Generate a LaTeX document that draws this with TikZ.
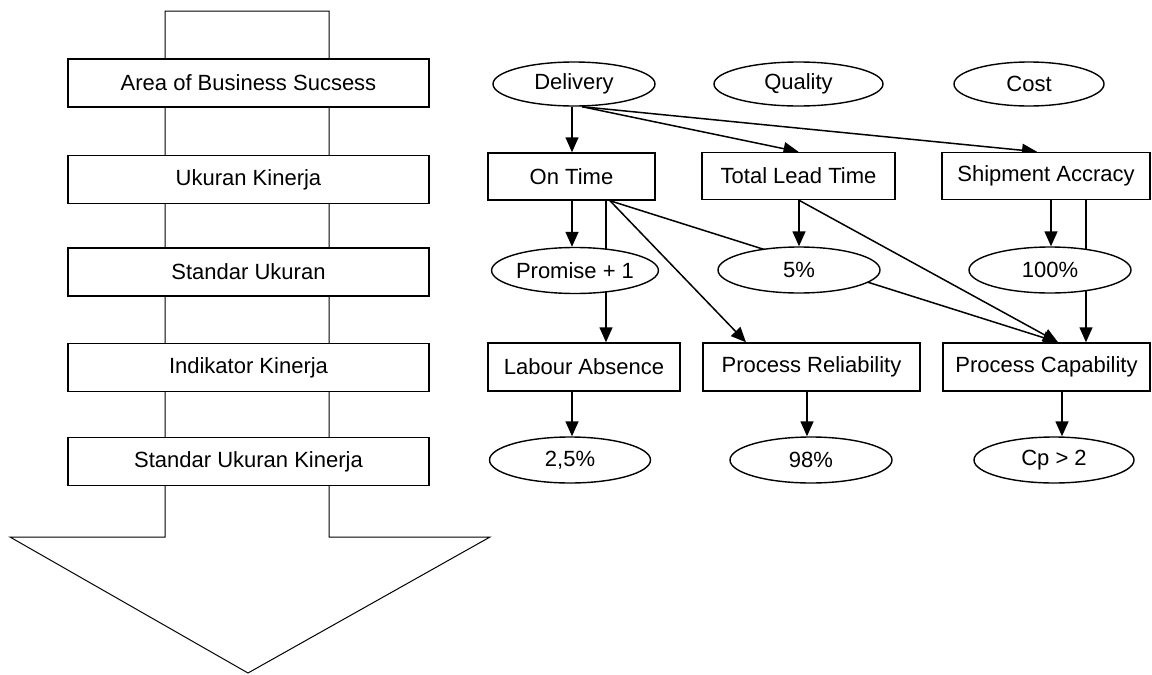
\documentclass[tikz,border=0pt]{standalone}
\usepackage{fontspec}
\setmainfont{Liberation Sans}
\usetikzlibrary{shapes.geometric,arrows.meta}
\pgfdeclarelayer{bg}
\pgfsetlayers{bg,main}
\begin{document}
\begin{tikzpicture}[x=1pt,y=-1pt,
  font=\fontsize{22}{26}\selectfont,
  box/.style={draw, line width=1.5pt, fill=white, rectangle, inner sep=0pt, minimum height=48pt},
  oval/.style={draw, line width=1.4pt, fill=white, ellipse, inner sep=0pt, minimum height=46pt},
  conn/.style={line width=1.5pt},
  arr/.style={conn, -{Triangle[length=15pt,width=13pt]}},
  big/.style={line width=1pt}]
\useasboundingbox (0,0) rectangle (1152,675);

% left column
\node[box, minimum width=361pt] (l1) at (248.5,83) {Area of Business Sucsess};
\node[box, minimum width=361pt] (l2) at (248.5,179.5) {Ukuran Kinerja};
\node[box, minimum width=361pt] (l3) at (248.5,272) {Standar Ukuran};
\node[box, minimum width=361pt] (l4) at (248.5,367.5) {Indikator Kinerja};
\node[box, minimum width=361pt] (l5) at (248.5,461.5) {Standar Ukuran Kinerja};

% right: row 1
\node[oval, minimum width=162pt, minimum height=44pt] (del) at (574,84) {Delivery};
\node[oval, minimum width=169pt, minimum height=44pt] (qua) at (798.5,84) {Quality};
\node[oval, minimum width=150pt, minimum height=44pt] (cost) at (1029,84) {Cost};
% row 2
\node[box, minimum width=167pt, minimum height=47pt] (ont) at (571.5,176.5) {On Time};
\node[box, minimum width=193pt, minimum height=47pt] (tlt) at (798.5,176) {Total Lead Time};
\node[box, minimum width=208pt, minimum height=47pt] (shp) at (1046,176) {Shipment Accracy};
% row 3
\node[oval, minimum width=161pt] (pro) at (575,270.5) {Promise + 1};
\node[oval, minimum width=162pt] (p5) at (799,270) {5\%};
\node[oval, minimum width=162pt] (p100) at (1050,270) {100\%};
% row 4
\node[box, minimum width=192pt] (lab) at (584,367) {Labour Absence};
\node[box, minimum width=217pt] (rel) at (811.5,367) {Process Reliability};
\node[box, minimum width=207pt] (cap) at (1046.5,367) {Process Capability};
% row 5
\node[oval, minimum width=161pt] (e25) at (570,460) {2,5\%};
\node[oval, minimum width=162pt] (e98) at (811,460) {98\%};
\node[oval, minimum width=160pt] (ecp) at (1054,460) {Cp > 2};

\coordinate (xa) at (572,0);
\coordinate (xb) at (582,0);
\coordinate (xc) at (606,0);
\coordinate (xd) at (610,0);
\coordinate (xe) at (746,0);
\coordinate (xf) at (1058,0);
\coordinate (xg) at (799,0);
\coordinate (xh) at (1037,0);
\coordinate (xi) at (1051,0);
\coordinate (xj) at (1086,0);
\coordinate (xk) at (807,0);
\coordinate (xl) at (1062,0);

\begin{pgfonlayer}{bg}
  \draw[big] (165,11) -- (329,11) -- (329,537) -- (490,537) -- (248,673) -- (10,537) -- (165,537) -- cycle;

  \draw[arr] (del.south -| xa) -- (ont.north -| xa);
  \draw[arr] (del.south -| xb) -- (tlt.north);
  \draw[arr] (del.south -| xb) -- (shp.north -| xh);
  \draw[arr] (ont.south -| xa) -- (pro.north -| xa);
  \draw[arr] (ont.south -| xc) -- (lab.north -| xc);
  \draw[arr] (ont.south -| xd) -- (rel.north -| xe);
  \draw[arr] (ont.south -| xd) -- (cap.north -| xf);
  \draw[arr] (tlt.south -| xg) -- (p5.north -| xg);
  \draw[arr] (tlt.south -| xg) -- (cap.north -| xf);
  \draw[arr] (shp.south -| xi) -- (p100.north -| xi);
  \draw[arr] (shp.south -| xj) -- (cap.north -| xj);
  \draw[arr] (lab.south -| xa) -- (e25.north -| xa);
  \draw[arr] (rel.south -| xk) -- (e98.north -| xk);
  \draw[arr] (cap.south -| xl) -- (ecp.north -| xl);
\end{pgfonlayer}
\end{tikzpicture}
\end{document}
